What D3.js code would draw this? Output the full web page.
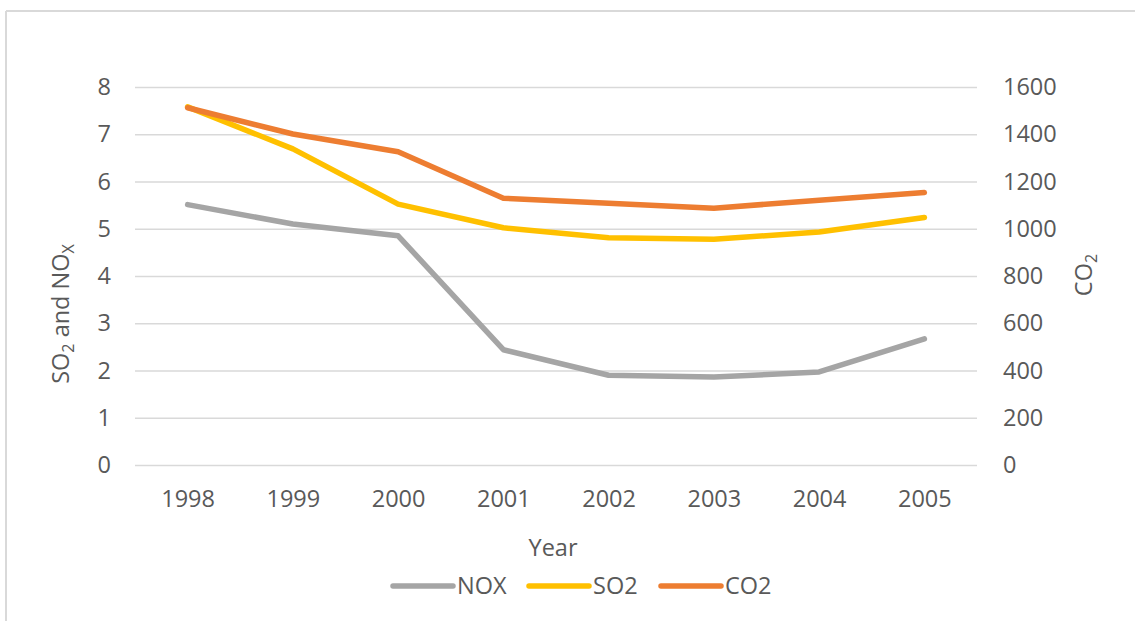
<!DOCTYPE html>
<html>
<head>
<meta charset="utf-8">
<script src="https://cdn.jsdelivr.net/npm/d3@7"></script>
<style>
  html, body { margin: 0; padding: 0; background: #fff; }
  svg text { font-family: "Open Sans", "Liberation Sans", sans-serif; fill: #595959; }
</style>
</head>
<body>
<svg id="chart" width="1135" height="621"></svg>
<script>
const years = ["1998", "1999", "2000", "2001", "2002", "2003", "2004", "2005"];
const noxValues = [5.51, 5.10, 4.85, 2.44, 1.90, 1.86, 1.97, 2.67];
const so2Values = [7.58, 6.69, 5.52, 5.02, 4.81, 4.78, 4.93, 5.24];
const co2Values = [1512, 1401, 1326, 1129, 1108, 1087, 1121, 1153];
const leftTicks = [0, 1, 2, 3, 4, 5, 6, 7, 8];
const rightTicks = [0, 200, 400, 600, 800, 1000, 1200, 1400, 1600];
const seriesNames = ["NOX", "SO2", "CO2"];
const seriesColors = ["#a5a5a5", "#ffc000", "#ed7d31"];

const svg = d3.select("#chart");
const FS = 23.5;
const SUB = 16;
const plot = { left: 135, right: 977, top: 87, bottom: 465 };

// frame (chart area border, partially cropped)
svg.append("line").attr("x1", 6).attr("x2", 1135).attr("y1", 11).attr("y2", 11)
  .attr("stroke", "#d9d9d9").attr("stroke-width", 2);
svg.append("line").attr("x1", 6).attr("x2", 6).attr("y1", 11).attr("y2", 621)
  .attr("stroke", "#d9d9d9").attr("stroke-width", 2);

const x = d3.scalePoint().domain(years).range([plot.left, plot.right]).padding(0.5);
const yL = d3.scaleLinear().domain([0, 8]).range([plot.bottom, plot.top]);
const yR = d3.scaleLinear().domain([0, 1600]).range([plot.bottom, plot.top]);

// gridlines + left axis
const leftAxis = d3.axisLeft(yL).tickValues(leftTicks).tickFormat(d3.format("d"))
  .tickSize(-(plot.right - plot.left)).tickPadding(24);
const gL = svg.append("g").attr("transform", `translate(${plot.left},0)`).call(leftAxis);
gL.select(".domain").remove();
gL.selectAll(".tick line").attr("stroke", "#d9d9d9").attr("stroke-width", 1.5);
gL.selectAll(".tick text").attr("font-size", FS).attr("fill", "#595959")
  .attr("font-family", "Open Sans");

const rightAxis = d3.axisRight(yR).tickValues(rightTicks).tickFormat(d3.format("d"))
  .tickSize(0).tickPadding(26);
const gR = svg.append("g").attr("transform", `translate(${plot.right},0)`).call(rightAxis);
gR.select(".domain").remove();
gR.selectAll(".tick text").attr("font-size", FS).attr("fill", "#595959")
  .attr("font-family", "Open Sans");

const xAxis = d3.axisBottom(x).tickSize(0).tickPadding(25);
const gX = svg.append("g").attr("transform", `translate(0,${plot.bottom})`).call(xAxis);
gX.select(".domain").remove();
gX.selectAll(".tick text").attr("font-size", FS).attr("fill", "#595959")
  .attr("font-family", "Open Sans");

// axis titles
svg.append("text").attr("x", (plot.left + plot.right) / 2 - 3).attr("y", 556)
  .attr("text-anchor", "middle").attr("font-size", FS).text("Year");

const lt = svg.append("text").attr("transform", "translate(69,314) rotate(-90)")
  .attr("text-anchor", "middle").attr("font-size", FS);
lt.append("tspan").text("SO");
lt.append("tspan").attr("font-size", SUB).attr("dy", 5).text("2");
lt.append("tspan").attr("dy", -5).text(" and NO");
lt.append("tspan").attr("font-size", SUB).attr("dy", 5).text("X");

const rt = svg.append("text").attr("transform", "translate(1092,275) rotate(-90)")
  .attr("text-anchor", "middle").attr("font-size", FS);
rt.append("tspan").text("CO");
rt.append("tspan").attr("font-size", SUB).attr("dy", 5).text("2");

// lines
const series = [
  { name: seriesNames[0], values: noxValues, y: yL, color: seriesColors[0] },
  { name: seriesNames[1], values: so2Values, y: yL, color: seriesColors[1] },
  { name: seriesNames[2], values: co2Values, y: yR, color: seriesColors[2] }
];
series.forEach(s => {
  const line = d3.line().x((d, i) => x(years[i])).y(d => s.y(d));
  svg.append("path").datum(s.values).attr("d", line)
    .attr("fill", "none").attr("stroke", s.color).attr("stroke-width", 5.5)
    .attr("stroke-linecap", "round").attr("stroke-linejoin", "round");
});

// legend
const legendX = [393, 529, 661];
series.forEach((s, i) => {
  const g = svg.append("g").attr("transform", `translate(${legendX[i]},586)`);
  g.append("line").attr("x1", 0).attr("x2", 60).attr("y1", 0).attr("y2", 0)
    .attr("stroke", s.color).attr("stroke-width", 5.5).attr("stroke-linecap", "round");
  g.append("text").attr("x", 64).attr("y", 8).attr("font-size", FS).text(s.name);
});
</script>
</body>
</html>
